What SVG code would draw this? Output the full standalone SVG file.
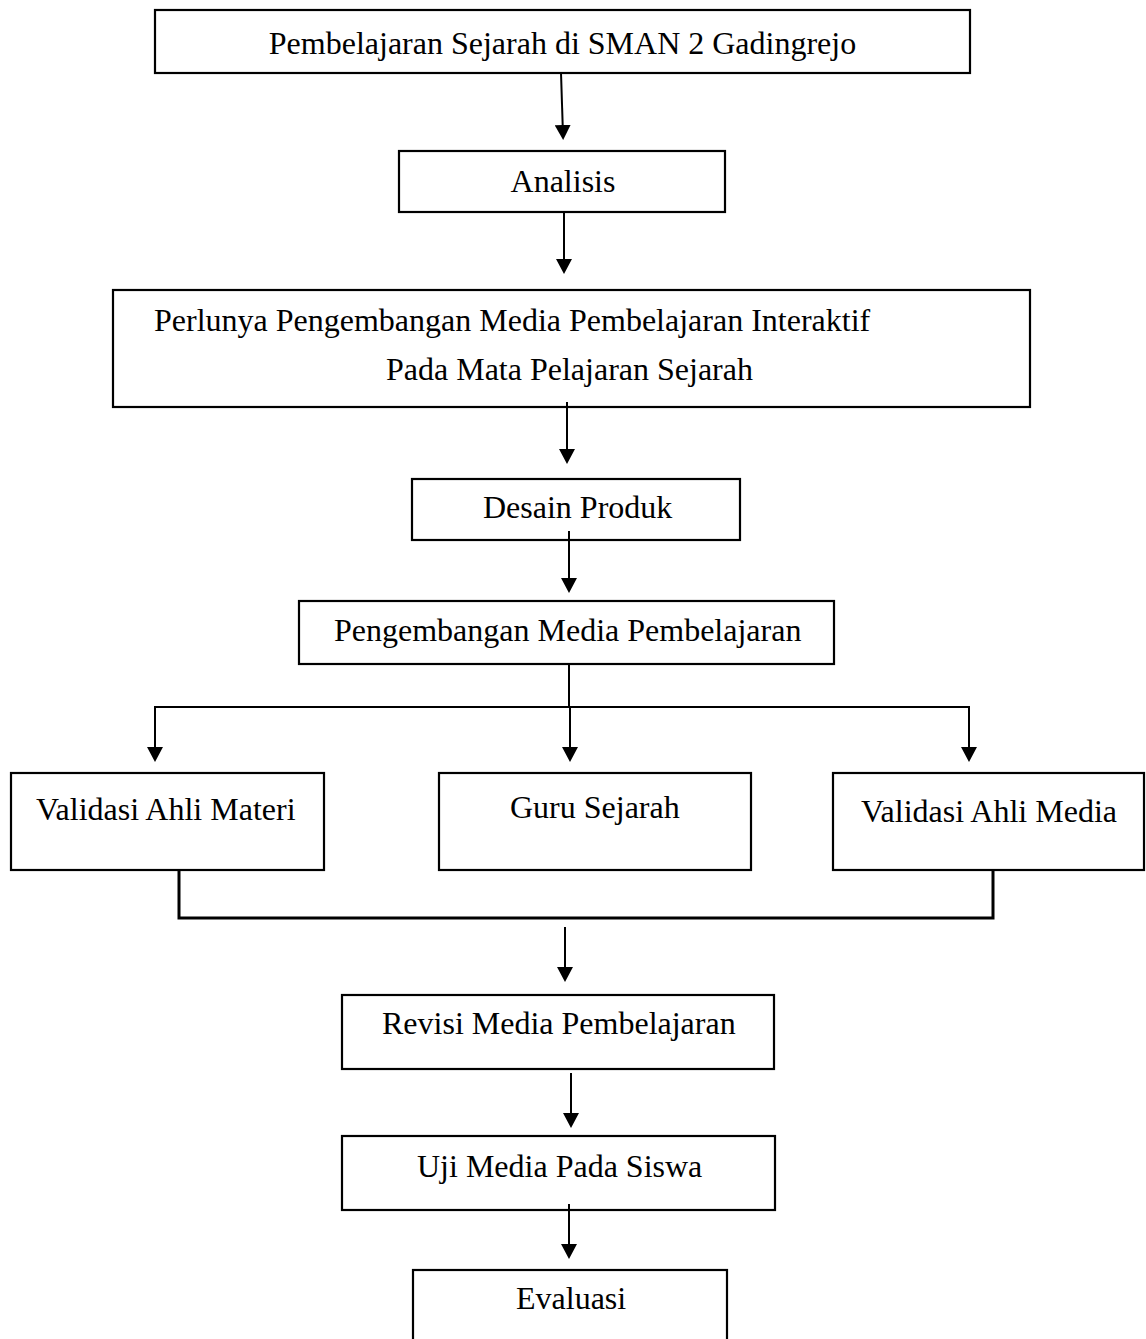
<svg xmlns="http://www.w3.org/2000/svg" width="1146" height="1339" viewBox="0 0 1146 1339">
<style>
.box{fill:#fff;stroke:#000;stroke-width:2.2}
.t{font-family:"Liberation Serif","Times New Roman",serif;font-size:32px;fill:#000}
.c{fill:none;stroke:#000;stroke-width:2}
.b{fill:none;stroke:#000;stroke-width:3}
</style>
<defs>
<marker id="ah" viewBox="0 0 15 16" refX="10" refY="8" markerWidth="15" markerHeight="16" markerUnits="userSpaceOnUse" orient="auto">
<path d="M0,0 L15,8 L0,16 z" fill="#000"/>
</marker>
</defs>
<rect width="1146" height="1339" fill="#fff"/>
<g id="connectors">
<line class="c" x1="561" y1="73" x2="563" y2="135" marker-end="url(#ah)"/>
<line class="c" x1="564" y1="212" x2="564" y2="269" marker-end="url(#ah)"/>
<line class="c" x1="567" y1="402" x2="567" y2="459" marker-end="url(#ah)"/>
<line class="c" x1="569" y1="531" x2="569" y2="588" marker-end="url(#ah)"/>
<polyline class="c" points="569,664 569,707"/>
<polyline class="c" points="155,757 155,707 969,707 969,757" marker-start="none"/>
<line class="c" x1="155" y1="707" x2="155" y2="757" marker-end="url(#ah)"/>
<line class="c" x1="570" y1="707" x2="570" y2="757" marker-end="url(#ah)"/>
<line class="c" x1="969" y1="707" x2="969" y2="757" marker-end="url(#ah)"/>
<path class="b" d="M179,870 V918 H993 V870"/>
<line class="c" x1="565" y1="927" x2="565" y2="977" marker-end="url(#ah)"/>
<line class="c" x1="571" y1="1073" x2="571" y2="1123" marker-end="url(#ah)"/>
<line class="c" x1="569" y1="1204" x2="569" y2="1254" marker-end="url(#ah)"/>
</g>
<g id="n1"><rect class="box" x="155" y="10" width="815" height="63"/><text class="t" x="562.5" y="54" text-anchor="middle">Pembelajaran Sejarah di SMAN 2 Gadingrejo</text></g>
<g id="n2"><rect class="box" x="399" y="151" width="326" height="61"/><text class="t" x="563" y="192" text-anchor="middle">Analisis</text></g>
<g id="n3"><rect class="box" x="113" y="290" width="917" height="117"/><text class="t" x="154" y="331">Perlunya Pengembangan Media Pembelajaran Interaktif</text><text class="t" x="386" y="380">Pada Mata Pelajaran Sejarah</text></g>
<line class="c" x1="567" y1="402" x2="567" y2="420"/>
<g id="n4"><rect class="box" x="412" y="479" width="328" height="61"/><text class="t" x="483" y="518">Desain Produk</text></g>
<line class="c" x1="569" y1="531" x2="569" y2="545"/>
<g id="n5"><rect class="box" x="299" y="601" width="535" height="63"/><text class="t" x="334" y="641">Pengembangan Media Pembelajaran</text></g>
<g id="n6"><rect class="box" x="11" y="773" width="313" height="97"/><text class="t" x="36" y="820">Validasi Ahli Materi</text></g>
<g id="n7"><rect class="box" x="439" y="773" width="312" height="97"/><text class="t" x="510" y="818">Guru Sejarah</text></g>
<g id="n8"><rect class="box" x="833" y="773" width="311" height="97"/><text class="t" x="861" y="822">Validasi Ahli Media</text></g>
<g id="n9"><rect class="box" x="342" y="995" width="432" height="74"/><text class="t" x="382" y="1034">Revisi Media Pembelajaran</text></g>
<g id="n10"><rect class="box" x="342" y="1136" width="433" height="74"/><text class="t" x="417" y="1177">Uji Media Pada Siswa</text></g>
<line class="c" x1="569" y1="1204" x2="569" y2="1215"/>
<g id="n11"><rect class="box" x="413" y="1270" width="314" height="90"/><text class="t" x="516" y="1309">Evaluasi</text></g>
</svg>
